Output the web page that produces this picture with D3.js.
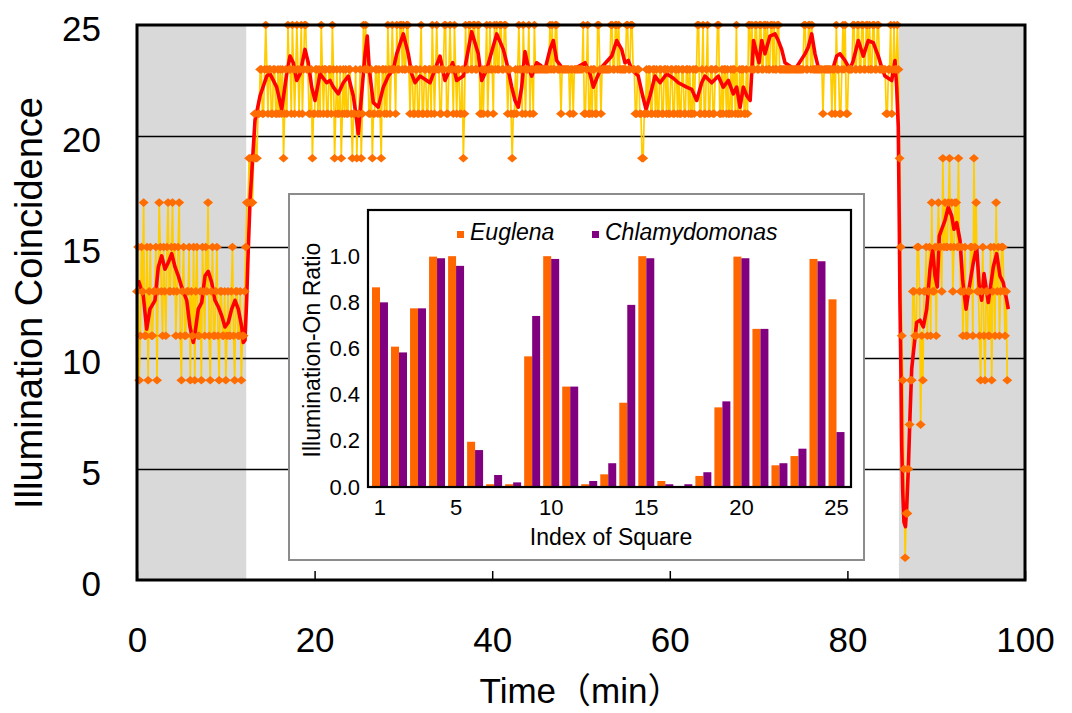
<!DOCTYPE html>
<html><head><meta charset="utf-8">
<script src="https://cdn.jsdelivr.net/npm/d3@7"></script>
<style>
body{margin:0;background:#fff;}
svg{display:block;}
</style></head><body>
<svg id="chart" width="1072" height="713"></svg>
<script>
// ---------- data ----------
const sampleStepMin = 0.125; // minutes between raw samples
const coincidence = [
13,15,9,11,15,13,17,11,11,15,9,13,15,11,11,13,13,15,9,13,
17,15,13,11,15,13,11,15,17,13,13,15,17,13,15,11,13,15,17,11,
9,13,15,11,11,13,13,15,9,13,11,15,9,13,15,11,11,13,9,15,
13,11,15,13,17,11,9,13,15,11,11,13,15,11,9,13,13,11,11,13,
9,11,13,11,11,13,15,11,9,13,13,11,11,13,9,11,11,13,15,17,
17,19,19,17,17,19,21,19,19,21,21,23,23,21,21,23,25,23,21,23,
23,21,21,23,23,21,21,23,21,23,21,23,19,21,23,21,25,23,23,21,
25,23,21,23,25,23,21,23,25,21,23,25,25,23,23,21,21,23,19,21,
21,23,23,21,23,21,25,23,21,23,23,21,21,23,23,21,25,23,19,21,
23,21,21,23,19,21,23,21,23,21,21,23,23,21,19,21,21,23,19,21,
21,23,19,21,25,23,25,23,23,21,21,23,19,21,21,23,23,21,23,21,
19,23,23,21,23,21,25,23,21,23,25,23,23,21,25,23,23,25,25,23,
25,23,23,25,25,23,21,23,23,21,21,23,23,21,21,23,25,21,21,23,
23,21,21,23,23,21,25,23,21,23,25,23,23,21,21,23,23,25,25,21,
21,23,25,23,23,21,25,23,21,23,23,21,21,23,19,21,25,23,23,25,
25,23,23,25,25,23,23,25,25,21,21,23,21,23,23,25,21,23,25,23,
23,21,25,23,25,23,23,25,25,23,23,25,25,23,21,23,23,21,19,21,
21,23,21,23,25,23,23,21,25,23,21,23,23,25,21,23,23,21,25,23,
23,23,23,23,23,23,23,23,23,23,23,23,25,23,25,23,23,25,25,23,
23,23,21,23,23,23,23,23,23,23,21,23,23,21,23,23,23,23,23,23,
23,23,25,21,21,23,25,21,21,23,21,23,23,21,21,25,25,23,21,23,
23,23,23,23,23,23,23,25,25,23,23,25,25,23,25,23,23,23,23,23,
23,25,25,23,23,25,25,23,23,21,21,23,23,21,21,19,19,21,21,23,
21,23,23,21,21,23,23,21,23,21,21,23,23,21,21,23,23,21,23,21,
21,23,23,21,21,23,23,21,23,21,21,23,23,21,21,23,23,21,23,21,
21,23,21,23,23,25,25,21,21,23,25,21,21,23,25,21,21,23,23,21,
21,23,23,25,25,21,21,23,21,23,23,21,23,21,21,23,21,23,23,21,
25,21,21,23,21,23,23,21,21,23,21,25,25,23,25,23,23,25,25,23,
23,25,25,23,23,25,25,23,25,23,23,25,25,23,25,23,23,25,25,23,
23,23,23,23,23,23,23,23,23,23,23,23,23,23,23,23,23,23,23,23,
23,25,25,23,23,25,25,23,25,23,23,23,23,23,23,23,23,23,21,23,
23,23,23,23,23,23,21,23,23,21,25,23,23,21,21,23,25,23,25,21,
21,23,23,23,23,25,25,23,23,25,25,23,23,25,25,23,23,25,25,23,
25,23,23,25,25,23,23,25,25,23,23,23,23,23,23,21,21,23,23,25,
21,23,25,23,23,25,23,19,15,11,9,5,1,3,3,5,7,9,9,13,
13,11,11,15,15,13,7,11,9,13,13,15,11,13,15,11,17,13,13,15,
11,15,17,15,15,13,19,15,17,15,15,17,19,15,17,13,15,17,17,15,
19,15,13,15,11,13,15,11,11,13,13,15,15,11,19,15,17,13,13,11,
9,13,15,11,9,13,13,11,11,15,9,13,15,11,17,13,15,11,13,15,
15,13,11,13,9
];
const trendTime = [
0.15,0.71,1.09,1.46,2.03,2.40,2.78,3.15,3.52,3.91,4.28,4.65,5.03,5.60,5.97,6.34,6.53,6.90,7.29,7.66,
8.03,8.41,8.78,9.16,9.54,9.91,10.28,10.66,11.04,11.41,11.79,11.97,12.16,12.35,12.53,12.73,13.29,13.85,14.61,14.98,
15.73,16.30,16.86,17.23,17.60,17.98,18.36,18.92,19.29,19.67,20.05,20.61,21.36,21.73,22.11,22.67,23.23,23.80,24.36,24.74,
24.92,25.30,25.68,25.93,26.16,26.61,27.17,27.74,28.30,28.86,29.25,29.99,30.55,30.93,31.31,31.87,32.62,33.00,34.12,34.68,
35.55,36.00,36.75,37.69,38.43,38.82,39.38,40.51,41.25,41.63,42.20,42.57,42.94,43.32,43.69,44.07,44.45,45.01,45.38,45.95,
46.51,46.88,47.26,48.01,49.13,50.45,51.01,51.39,51.77,52.33,53.46,54.02,54.58,54.95,55.33,55.71,56.45,56.95,57.32,57.77,
58.33,58.90,59.65,60.40,60.96,61.90,62.47,63.03,63.59,63.96,64.72,65.46,66.02,66.59,67.15,67.53,67.91,68.28,68.68,69.05,
69.43,69.79,70.05,70.35,70.72,71.28,71.85,72.22,72.60,72.97,74.10,75.23,75.59,75.98,76.35,76.72,77.29,78.41,78.79,79.17,
79.73,80.29,80.66,81.23,81.79,82.35,82.92,83.48,83.86,84.23,84.99,85.36,85.55,85.73,85.84,85.92,86.04,86.12,86.23,86.37,
86.54,86.68,86.86,87.05,87.24,87.42,87.80,88.18,88.55,88.93,89.30,89.60,89.86,90.12,90.35,90.62,90.99,91.36,91.74,92.00,
92.31,92.68,92.98,93.36,93.73,94.18,94.56,94.85,95.12,95.38,95.87,96.43,96.81,97.18,97.55,97.94,98.12
];
const trendValue = [
13.5,12.8,11.3,12.2,12.6,14.1,14.6,14.0,14.3,14.7,14.1,13.7,13.2,12.6,11.4,10.7,11.1,12.2,12.5,13.7,
13.9,13.4,12.6,12.3,11.9,11.4,11.6,12.2,12.6,12.2,11.4,10.7,10.8,12.6,14.9,17.1,20.7,21.8,22.7,22.8,
22.2,21.2,22.8,23.6,23.3,22.5,22.8,23.9,23.3,22.2,21.6,22.8,22.4,22.5,22.2,21.9,22.4,22.7,21.8,20.7,
20.1,21.9,23.7,24.5,23.0,21.5,21.3,22.2,22.7,23.0,23.7,24.6,23.7,22.8,22.4,22.7,22.5,22.4,23.6,22.5,
23.3,22.5,22.7,24.7,23.7,22.5,23.0,24.6,23.9,23.3,22.2,21.6,21.3,22.2,23.8,23.1,22.7,23.3,23.2,23.0,
23.9,24.3,23.4,23.0,23.0,23.3,22.8,22.2,22.6,23.1,23.6,24.3,23.9,23.3,23.4,23.0,22.7,21.8,21.2,21.8,
22.7,22.4,22.8,22.6,22.4,22.2,22.1,21.6,22.4,22.7,22.4,22.7,22.2,22.5,21.9,22.2,21.3,22.2,21.8,21.6,
24.3,23.7,23.3,24.3,23.7,24.5,24.6,24.3,23.9,23.3,23.0,23.7,24.0,24.6,23.7,23.1,23.0,23.1,23.6,23.7,
23.4,23.0,23.4,24.3,23.6,24.3,24.2,23.6,23.1,22.7,22.5,23.4,22.2,20.4,16.2,12.5,9.0,6.0,4.0,2.6,
2.4,3.3,5.0,7.4,9.5,10.2,11.6,11.7,11.4,12.2,14.0,14.9,13.7,13.2,15.5,15.8,16.2,16.8,16.4,15.8,
16.1,15.3,13.5,12.2,13.2,14.3,15.0,13.2,12.6,13.8,12.5,14.1,14.7,13.7,13.4,12.6,12.2
];
const darkStart = [0, 85.8];
const darkEnd = [12.3, 100];
const timeTicks = [0, 20, 40, 60, 80, 100];
const coincidenceTicks = [0, 5, 10, 15, 20, 25];
const gridValues = [5, 10, 15, 20];

const squareIndex = [1,2,3,4,5,6,7,8,9,10,11,12,13,14,15,16,17,18,19,20,21,22,23,24,25];
const euglenaRatio = [0.865,0.608,0.774,0.998,1.0,0.196,0.012,0.012,0.566,1.0,0.435,0.012,0.055,0.365,1.0,0.026,0.0,0.048,0.345,0.998,0.685,0.094,0.134,0.988,0.813];
const chlamydomonasRatio = [0.80,0.583,0.774,0.991,0.958,0.16,0.052,0.02,0.741,0.988,0.435,0.026,0.103,0.789,0.991,0.012,0.012,0.064,0.371,0.991,0.685,0.103,0.166,0.978,0.238];
const squareTicks = [1, 5, 10, 15, 20, 25];
const ratioTicks = [0, 0.2, 0.4, 0.6, 0.8, 1.0];
const seriesNames = ["Euglena", "Chlamydomonas"];
const seriesColors = ["#FF6600", "#800080"];

// ---------- main chart ----------
const FONT = '"Liberation Sans", Arial, "Noto Sans CJK JP", sans-serif';
const svg = d3.select("#chart");
svg.append("rect").attr("width",1072).attr("height",713).attr("fill","#fff");
const M = {left:137, right:1025, top:25, bottom:580};
const x = d3.scaleLinear().domain([0,100]).range([M.left, M.right]);
const y = d3.scaleLinear().domain([0,25]).range([M.bottom, M.top]);

svg.append("g").selectAll("rect")
  .data(darkStart.map((s,i)=>[s, darkEnd[i]]))
  .join("rect")
  .attr("x", d=>x(d[0])).attr("width", d=>x(d[1])-x(d[0]))
  .attr("y", M.top).attr("height", M.bottom-M.top)
  .attr("fill", "#D9D9D9");

const grid = svg.append("g").attr("transform", `translate(${M.left},0)`)
  .call(d3.axisLeft(y).tickValues(gridValues).tickSize(-(M.right-M.left)).tickFormat(""));
grid.select(".domain").remove();
grid.selectAll("line").attr("stroke","#000").attr("stroke-width",1.3);

const raw = coincidence.map((v,i)=>({t: i*sampleStepMin, v}));
const line = d3.line().x(d=>x(d.t)).y(d=>y(d.v));
svg.append("path").datum(raw)
  .attr("fill","none").attr("stroke","#FFCC00").attr("stroke-width",1.7)
  .attr("d", line);

const trend = trendTime.map((t,i)=>({t, v: trendValue[i]}));
svg.append("path").datum(trend)
  .attr("fill","none").attr("stroke","#FF0000").attr("stroke-width",3.6)
  .attr("stroke-linejoin","round")
  .attr("d", line);

svg.append("g").selectAll("path").data(raw).join("path")
  .attr("transform", d=>`translate(${x(d.t)},${y(d.v)})`)
  .attr("d", "M0,-4.3L5,0L0,4.3L-5,0Z")
  .attr("fill", "#FF6C00");

svg.append("rect")
  .attr("x", M.left).attr("y", M.top)
  .attr("width", M.right-M.left).attr("height", M.bottom-M.top)
  .attr("fill","none").attr("stroke","#000").attr("stroke-width",3);

const xAxis = svg.append("g").attr("transform", `translate(0,${M.bottom})`)
  .call(d3.axisBottom(x).tickValues(timeTicks).tickSize(-9).tickPadding(47));
xAxis.select(".domain").remove();
xAxis.selectAll("line").attr("stroke","#000").attr("stroke-width",1.5);
xAxis.attr("font-size",35).attr("font-family",FONT);
xAxis.selectAll("text").attr("fill","#000");

const yAxis = svg.append("g").attr("transform", `translate(${M.left},0)`)
  .call(d3.axisLeft(y).tickValues(coincidenceTicks).tickSize(0).tickPadding(36));
yAxis.select(".domain").remove();
yAxis.attr("font-size",35).attr("font-family",FONT);
yAxis.selectAll("text").attr("fill","#000").attr("dy","0.45em");

svg.append("text")
  .attr("transform","translate(42,303) rotate(-90)")
  .attr("text-anchor","middle").attr("font-size",38).attr("font-family",FONT)
  .attr("fill","#000").text("Illumination Coincidence");

svg.append("text")
  .attr("x", 581).attr("y", 703)
  .attr("text-anchor","middle").attr("font-size",35).attr("font-family",FONT)
  .attr("fill","#000").text("Time（min）");

// ---------- inset ----------
const inset = svg.append("g");
inset.append("rect").attr("x",289).attr("y",194).attr("width",575).attr("height",366)
  .attr("fill","#fff").attr("stroke","#8C8C8C").attr("stroke-width",2);

const I = {left:368, right:851, top:210, bottom:487};
const bx = d3.scaleBand().domain(squareIndex).range([372, 844.5]).paddingInner(0.16);
const bs = d3.scaleBand().domain(seriesNames).range([0, bx.bandwidth()]);
const by = d3.scaleLinear().domain([0,1.2]).range([I.bottom, I.top]);

const barRows = squareIndex.map((k,i)=>({k, vals:[euglenaRatio[i], chlamydomonasRatio[i]]}));
inset.append("g").selectAll("g").data(barRows).join("g")
  .attr("transform", d=>`translate(${bx(d.k)},0)`)
  .selectAll("rect")
  .data(d=>d.vals.map((v,j)=>({name: seriesNames[j], v, c: seriesColors[j]})))
  .join("rect")
  .attr("x", d=>bs(d.name)).attr("width", bs.bandwidth())
  .attr("y", d=>by(d.v)).attr("height", d=>by(0)-by(d.v))
  .attr("fill", d=>d.c);

inset.append("rect").attr("x",I.left).attr("y",I.top)
  .attr("width",I.right-I.left).attr("height",I.bottom-I.top)
  .attr("fill","none").attr("stroke","#000").attr("stroke-width",2.2);

const iy = inset.append("g").attr("transform",`translate(${I.left},0)`)
  .call(d3.axisLeft(by).tickValues(ratioTicks).tickFormat(d3.format(".1f")).tickSize(0).tickPadding(8));
iy.select(".domain").remove();
iy.attr("font-size",22).attr("font-family",FONT);
iy.selectAll("text").attr("fill","#000");

const ix = inset.append("g").attr("transform",`translate(0,${I.bottom})`)
  .call(d3.axisBottom(bx).tickValues(squareTicks).tickSize(0).tickPadding(12));
ix.select(".domain").remove();
ix.attr("font-size",22).attr("font-family",FONT);
ix.selectAll("text").attr("fill","#000");

inset.append("text").attr("transform","translate(320,350) rotate(-90)")
  .attr("text-anchor","middle").attr("font-size",23).attr("font-family",FONT)
  .attr("fill","#000").text("Illumination-On Ratio");
inset.append("text").attr("x",611).attr("y",545)
  .attr("text-anchor","middle").attr("font-size",23).attr("font-family",FONT)
  .attr("fill","#000").text("Index of Square");

const legX = [457, 592];
const legend = inset.append("g").selectAll("g").data(seriesNames).join("g")
  .attr("transform",(d,i)=>`translate(${legX[i]},231)`);
legend.append("rect").attr("width",7).attr("height",7).attr("fill",(d,i)=>seriesColors[i]);
legend.append("text").attr("x",13).attr("y",9)
  .attr("font-size",23).attr("font-style","italic").attr("font-family",FONT)
  .attr("fill","#000").text(d=>d);
</script>
</body></html>
